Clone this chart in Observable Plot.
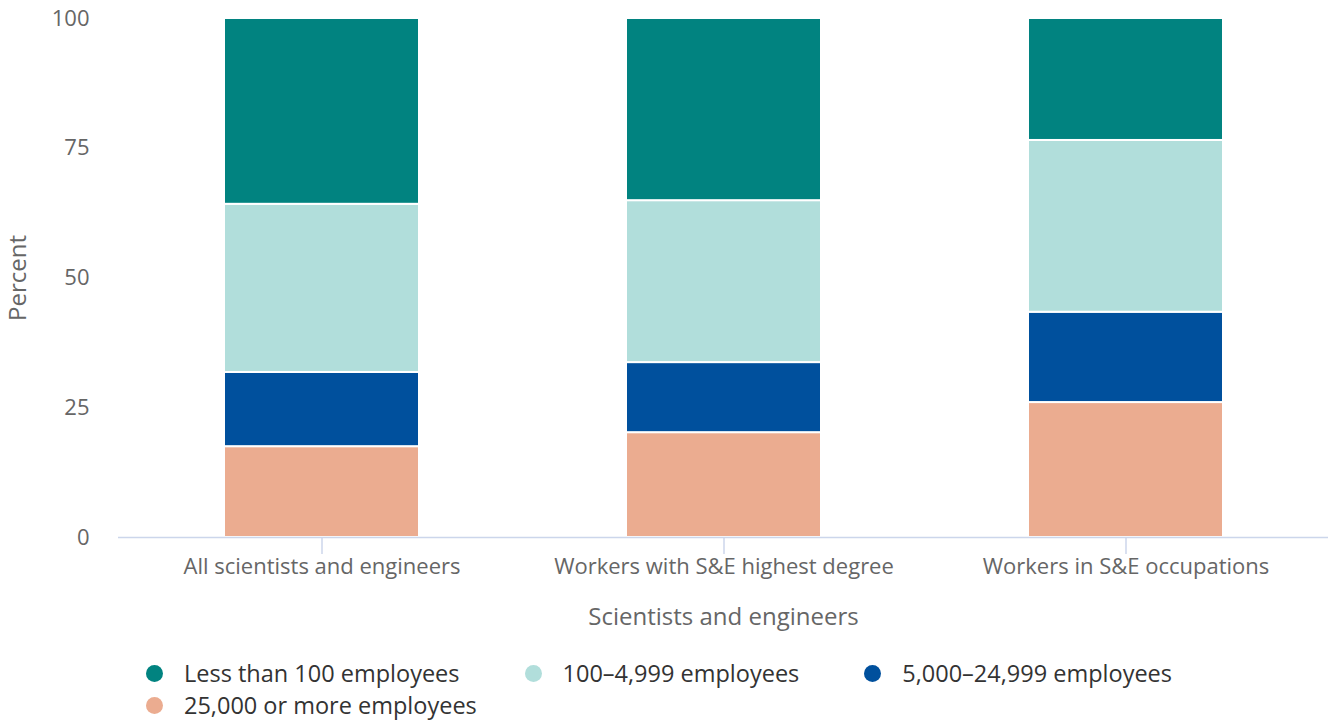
<!DOCTYPE html>
<html><head><meta charset="utf-8">
<script src="https://cdn.jsdelivr.net/npm/d3@7"></script>
<script src="https://cdn.jsdelivr.net/npm/@observablehq/plot@0.6"></script>
<style>
body{margin:0;background:#fff;font-family:"Open Sans",sans-serif;}
#chart{position:absolute;left:0;top:0;}
#legend{position:absolute;left:146px;top:657px;width:1090px;display:flex;flex-wrap:wrap;column-gap:65px;row-gap:0;font-size:23.5px;color:#333;}
.item{display:flex;align-items:center;height:32px;white-space:nowrap;}
.dot{width:17px;height:17px;border-radius:50%;margin-right:21px;flex:none;}
.lbl{display:block;height:32px;line-height:32px;}
</style></head>
<body><div id="chart"></div><div id="legend"></div>
<script>
const categories = ["All scientists and engineers", "Workers with S&E highest degree", "Workers in S&E occupations"];
const sizeClasses = ["Less than 100 employees", "100–4,999 employees", "5,000–24,999 employees", "25,000 or more employees"];
const lessThan100 = [35.8, 35.1, 23.5];
const from100to4999 = [32.4, 31.2, 33.1];
const from5000to24999 = [14.3, 13.5, 17.4];
const over25000 = [17.5, 20.2, 26.0];
const colors = ["#018380", "#b1dedb", "#00509d", "#ebac90"];
const yTicks = [0, 25, 50, 75, 100];

const series = [lessThan100, from100to4999, from5000to24999, over25000];
const rows = [];
for (let s = sizeClasses.length - 1; s >= 0; s--) {
  categories.forEach((c, i) => rows.push({category: c, size: sizeClasses[s], value: series[s][i]}));
}

const chart = Plot.plot({
  width: 1331,
  height: 650,
  marginLeft: 118,
  marginRight: 3,
  marginTop: 18,
  marginBottom: 113,
  style: {fontFamily: "Open Sans, sans-serif", fontSize: "22px", color: "#666", background: "#fff"},
  x: {domain: categories, paddingInner: 0.515, paddingOuter: 0.26},
  y: {domain: [0, 100]},
  color: {domain: sizeClasses, range: colors},
  marks: [
    Plot.gridY(yTicks.filter(d => d > 0), {stroke: "#e3e3e3", strokeOpacity: 1, strokeWidth: 1.2, x1: 120, x2: 1328}),
    Plot.barY(rows, {x: "category", y: "value", fill: "size", stroke: "white", strokeWidth: 2}),
    Plot.ruleY([0], {stroke: "#ccd6eb", strokeWidth: 1.5}),
    Plot.axisY({ticks: yTicks, tickSize: 0, tickPadding: 29, label: null, fill: "#666"}),
    Plot.axisY({ticks: [], label: "Percent", labelAnchor: "center", labelArrow: "none", labelOffset: 110, fontSize: 24, fill: "#666"}),
    Plot.axisX({tickSize: 17, tickPadding: 4, stroke: "#ccd6eb", strokeOpacity: 1, strokeWidth: 1.5, label: null, fill: "#666"}),
    Plot.axisX({ticks: [], label: "Scientists and engineers", labelAnchor: "center", labelArrow: "none", labelOffset: 87, fontSize: 24, fill: "#666"})
  ]
});
document.getElementById("chart").appendChild(chart);

const legend = document.getElementById("legend");
sizeClasses.forEach((s, i) => {
  const item = document.createElement("div");
  item.className = "item";
  const dot = document.createElement("span");
  dot.className = "dot";
  dot.style.background = colors[i];
  const label = document.createElement("span");
  label.className = "lbl";
  label.textContent = s;
  item.appendChild(dot);
  item.appendChild(label);
  legend.appendChild(item);
});
</script>
</body></html>
